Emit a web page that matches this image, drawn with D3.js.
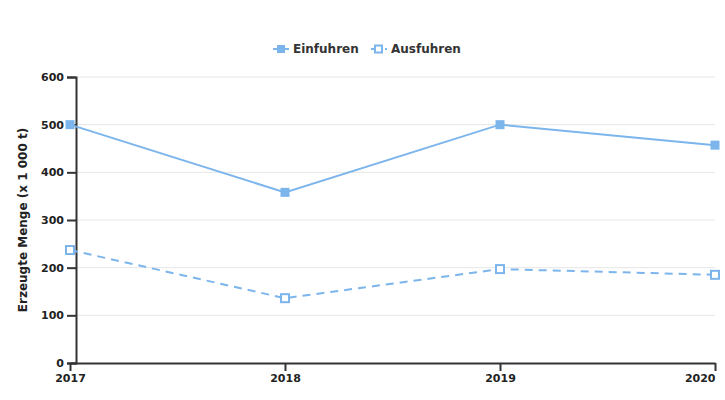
<!DOCTYPE html>
<html>
<head>
<meta charset="utf-8">
<script src="https://cdn.jsdelivr.net/npm/d3@7"></script>
<style>
body{margin:0;background:#fff;}
text{font-family:"DejaVu Sans",sans-serif;font-weight:bold;fill:#222;}
</style>
</head>
<body>
<script>
var years = ['2017','2018','2019','2020'];
var einfuhren = [500, 358, 500, 457];
var ausfuhren = [237, 136, 197, 185];
var yTicks = [0,100,200,300,400,500,600];
var seriesNames = ['Einfuhren','Ausfuhren'];

var W = 725, H = 400;
var col = '#7cb5ec';
var svg = d3.select('body').append('svg').attr('width',W).attr('height',H);

var x = d3.scalePoint().domain(years).range([70,715]);
var y = d3.scaleLinear().domain([0,600]).range([363,77]);
var axisX = 76; // y-Achse leicht versetzt

// Gitterlinien
svg.append('g').selectAll('line').data(yTicks.slice(1)).enter().append('line')
  .attr('x1',axisX).attr('x2',715)
  .attr('y1',function(d){return y(d);}).attr('y2',function(d){return y(d);})
  .attr('stroke','#e6e6e6').attr('stroke-width',1);

// Y-Achse
var yAxis = d3.axisLeft(y).tickValues(yTicks).tickSize(9).tickPadding(3);
var gy = svg.append('g').attr('transform','translate('+axisX+',0)').call(yAxis);
gy.select('.domain').attr('stroke','#333').attr('stroke-width',2);
gy.selectAll('.tick line').attr('stroke','#333').attr('stroke-width',2);
gy.selectAll('text').style('font-size','11px').style('fill','#222');

// X-Achse
var xAxis = d3.axisBottom(x).tickSize(8).tickPadding(3).tickSizeOuter(0);
var gx = svg.append('g').attr('transform','translate(0,363)').call(xAxis);
gx.select('.domain').attr('stroke','#333').attr('stroke-width',2);
gx.selectAll('.tick line').attr('stroke','#333').attr('stroke-width',2);
gx.selectAll('text').style('font-size','11px').style('fill','#222');
// letzte Beschriftung rechtsbündig, damit sie nicht abgeschnitten wird
gx.selectAll('.tick').filter(function(d){return d==years[years.length-1];})
  .select('text').attr('text-anchor','end');

// Achsentitel
svg.append('text').attr('transform','translate(27,220) rotate(-90)')
  .attr('text-anchor','middle').style('font-size','12px').text('Erzeugte Menge (x 1 000 t)');

var line = d3.line().x(function(d,i){return x(years[i]);}).y(function(d){return y(d);});

svg.append('path').datum(einfuhren).attr('d',line)
  .attr('fill','none').attr('stroke',col).attr('stroke-width',2);
svg.append('path').datum(ausfuhren).attr('d',line)
  .attr('fill','none').attr('stroke',col).attr('stroke-width',2).attr('stroke-dasharray','8,6');

svg.append('g').selectAll('rect').data(einfuhren).enter().append('rect')
  .attr('x',function(d,i){return x(years[i])-4.5;}).attr('y',function(d){return y(d)-4.5;})
  .attr('width',9).attr('height',9).attr('fill',col);
svg.append('g').selectAll('rect').data(ausfuhren).enter().append('rect')
  .attr('x',function(d,i){return x(years[i])-4;}).attr('y',function(d){return y(d)-4;})
  .attr('width',8).attr('height',8).attr('fill','#fff').attr('stroke',col).attr('stroke-width',2);

// Legende
var leg = svg.append('g');
var lx = [273, 371];
seriesNames.forEach(function(n,i){
  var g = leg.append('g').attr('transform','translate('+lx[i]+',49)');
  g.append('line').attr('x1',0).attr('x2',16).attr('stroke',col).attr('stroke-width',2)
    .attr('stroke-dasharray', i==1 ? '4,3' : null);
  if(i==0){
    g.append('rect').attr('x',4).attr('y',-4).attr('width',8).attr('height',8).attr('fill',col);
  } else {
    g.append('rect').attr('x',4).attr('y',-3.5).attr('width',7).attr('height',7)
      .attr('fill','#fff').attr('stroke',col).attr('stroke-width',2);
  }
  g.append('text').attr('x',20).attr('y',4).style('font-size','12px').style('fill','#333').text(n);
});
</script>
</body>
</html>
